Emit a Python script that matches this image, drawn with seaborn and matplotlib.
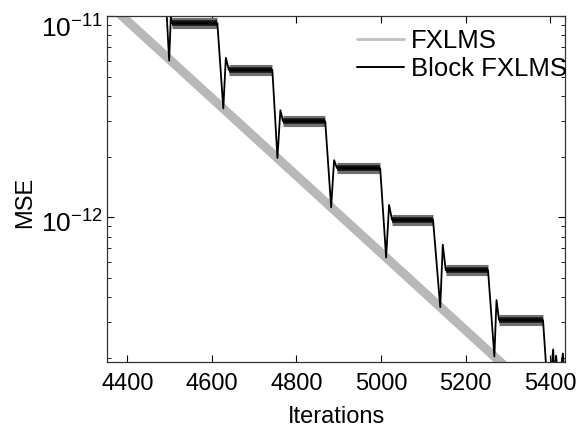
import numpy as np
import pandas as pd
import matplotlib
matplotlib.use("Agg")
import matplotlib.pyplot as plt
import matplotlib.transforms as mtransforms
import seaborn as sns
from matplotlib.lines import Line2D
from matplotlib.ticker import LogLocator, FixedLocator

# ---------------- data ----------------
series_names = ["FXLMS", "Block FXLMS"]

fxlms_iter = [4370, 5300]
fxlms_mse = [1.08e-11, 1.76e-13]

block_start_iter = [4490]
block_start_mse = [1.35e-11]

drop_iter = [4499, 4627, 4755, 4882, 5012, 5140, 5268]
drop_mse = [6.0e-12, 3.47e-12, 1.97e-12, 1.12e-12, 6.3e-13, 3.57e-13, 2.03e-13]

peak_iter = [4503, 4633, 4762, 4889, 5019, 5146, 5273]
peak_mse = [1.0e-11, 6.2e-12, 3.4e-12, 1.92e-12, 1.15e-12, 7.3e-13, 3.87e-13]

plateau_start = [4506, 4640, 4768, 4896, 5026, 5153, 5279]
plateau_end = [4613, 4743, 4868, 4998, 5123, 5253, 5383]
plateau_level = [9.2e-12, 5.4e-12, 3.0e-12, 1.75e-12, 9.7e-13, 5.45e-13, 3.08e-13]

tail_iter = [5393, 5401, 5407, 5410, 5414, 5418, 5424, 5430, 5434]
tail_mse = [1.5e-13, 1.6e-13, 2.2e-13, 1.6e-13, 2.05e-13, 1.6e-13, 1.7e-13, 2.1e-13, 1.6e-13]

x_ticks = [4400, 4600, 4800, 5000, 5200, 5400]
y_ticks = [1e-12, 1e-11]
x_limits = [4352, 5435]
y_limits = [1.905e-13, 1.0e-11]

# ---------------- build tables ----------------
bx, by = list(block_start_iter), list(block_start_mse)
for i in range(len(drop_iter)):
    bx += [drop_iter[i], peak_iter[i], plateau_start[i], plateau_end[i]]
    by += [drop_mse[i], peak_mse[i], plateau_level[i], plateau_level[i]]
bx += tail_iter
by += tail_mse
block_df = pd.DataFrame({"Iterations": bx, "MSE": by})
fx_df = pd.DataFrame({"Iterations": fxlms_iter, "MSE": fxlms_mse})

pl_rows = []
for i in range(len(plateau_start)):
    pl_rows.append({"seg": i, "Iterations": plateau_start[i], "MSE": plateau_level[i]})
    pl_rows.append({"seg": i, "Iterations": plateau_end[i], "MSE": plateau_level[i]})
pl_df = pd.DataFrame(pl_rows)

# ---------------- plot ----------------
sns.set_theme(style="ticks")
plt.rcParams["font.family"] = ["Liberation Sans", "DejaVu Sans"]
plt.rcParams["mathtext.fontset"] = "custom"
plt.rcParams["mathtext.rm"] = "Liberation Sans"
plt.rcParams["mathtext.it"] = "Liberation Sans"
plt.rcParams["text.color"] = "black"
plt.rcParams["axes.labelcolor"] = "black"

FS = 17

fig = plt.figure(figsize=(5.83, 4.30), dpi=100)
ax = fig.add_axes([107 / 583, 1 - 362 / 430, (565 - 107) / 583, (362 - 16) / 430])

gray = "#b8b8b8"
sns.lineplot(data=fx_df, x="Iterations", y="MSE", ax=ax, color=gray, lw=6.5,
             solid_capstyle="butt", estimator=None, sort=False)
sns.lineplot(data=pl_df, x="Iterations", y="MSE", units="seg", estimator=None, ax=ax,
             color="#707070", lw=8.0, solid_capstyle="butt")
sns.lineplot(data=pl_df, x="Iterations", y="MSE", units="seg", estimator=None, ax=ax,
             color="#111111", lw=4.0, solid_capstyle="butt")
sns.lineplot(data=block_df, x="Iterations", y="MSE", ax=ax, color="black", lw=1.3,
             estimator=None, sort=False)

ax.set_yscale("log")
ax.set_xlim(*x_limits)
ax.set_ylim(*y_limits)
ax.set_xticks(x_ticks)
ax.set_xticklabels([str(t) for t in x_ticks])
ax.yaxis.set_major_locator(FixedLocator(y_ticks))
ax.yaxis.set_minor_locator(LogLocator(base=10, subs=np.arange(2, 10)))
ax.yaxis.set_minor_formatter(plt.NullFormatter())
ax.xaxis.set_minor_locator(plt.NullLocator())

ax.tick_params(axis="both", which="both", direction="in", top=True, right=True,
               labelsize=FS, colors="black")
ax.tick_params(which="major", length=5, width=0.8)
ax.tick_params(which="minor", length=3, width=0.6)
ax.tick_params(axis="x", which="major", pad=8)
ax.tick_params(axis="y", which="major", pad=3, labelsize=19)
for s in ax.spines.values():
    s.set_color("#333333")
    s.set_linewidth(0.9)

ax.set_xlabel("Iterations", fontsize=FS, labelpad=8)
ax.set_ylabel("MSE", fontsize=FS)
ax.yaxis.set_label_coords(-0.155, 0.46)

# decade labels sit a little lower in the reference (the top one more so)
for tk, shift_px in zip(ax.yaxis.get_major_ticks(), [4, 11]):
    tk.label1.set_transform(tk.label1.get_transform() +
                            mtransforms.ScaledTranslation(0, -shift_px / 100, fig.dpi_scale_trans))

handles = [Line2D([], [], color="#c0c0c0", lw=2.0),
           Line2D([], [], color="black", lw=1.4)]
leg = ax.legend(handles, series_names, loc="upper right", frameon=False, fontsize=18.5,
                bbox_to_anchor=(1.005, 0.962), borderaxespad=0, borderpad=0,
                handlelength=1.8, handletextpad=0.3, labelspacing=0.15)
for t in leg.get_texts():
    t.set_color("black")

fig.savefig("out.png", dpi=100)
